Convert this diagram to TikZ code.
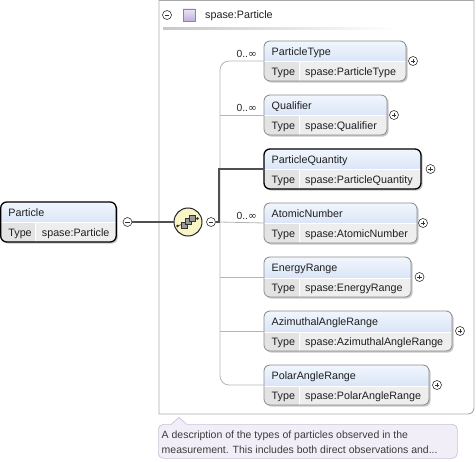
\documentclass[tikz,border=0pt]{standalone}
\usepackage{fontspec}
\setmainfont{Liberation Sans}
\newfontfamily\symf{DejaVu Sans}
\usetikzlibrary{shadows,calc}
\definecolor{hdtop}{HTML}{F2F6FD}
\definecolor{hdbot}{HTML}{C2D6F2}
\definecolor{tcell}{HTML}{E3E3E3}
\definecolor{vcell}{HTML}{EEEEEE}
\definecolor{bord}{HTML}{8C8C8C}
\definecolor{seqfill}{HTML}{FAF5C6}
\definecolor{contline}{HTML}{A9A9A9}
\definecolor{branchc}{HTML}{B4B4B4}
\definecolor{thickln}{HTML}{505050}
\definecolor{tipfill}{HTML}{F1EEF8}
\definecolor{tipline}{HTML}{C9C2D9}
\definecolor{tiptext}{HTML}{3C3C3C}
\definecolor{purtop}{HTML}{ECE6F6}
\definecolor{purbot}{HTML}{BFB0DE}
\definecolor{purline}{HTML}{8E80B4}
\tikzset{
  x=1pt, y=-1pt,
  elem/.style={rectangle, rounded corners=6pt, minimum height=40pt, anchor=north west,
    inner sep=0pt, outer sep=0pt, draw=bord, line width=0.8pt,
    drop shadow={shadow xshift=1.6pt, shadow yshift=-1.6pt, fill=black, opacity=0.22},
    path picture={
      \fill[sharp corners, top color=hdtop, bottom color=hdbot]
        (path picture bounding box.north west) rectangle ([yshift=-21pt]path picture bounding box.north east);
      \fill[sharp corners, tcell]
        ([yshift=-21pt]path picture bounding box.north west) rectangle ([xshift=35pt]path picture bounding box.south west);
      \fill[sharp corners, vcell]
        ([xshift=35pt,yshift=-21pt]path picture bounding box.north west) rectangle (path picture bounding box.south east);
      \draw[sharp corners, white, line width=1pt]
        ([yshift=-21pt]path picture bounding box.north west) -- ([yshift=-21pt]path picture bounding box.north east);
      \draw[sharp corners, white, line width=1pt]
        ([xshift=35pt,yshift=-21pt]path picture bounding box.north west) -- ([xshift=35pt]path picture bounding box.south west);
    }},
  req/.style={draw=black, line width=1.3pt},
  lbl/.style={anchor=base west, inner sep=0pt, font=\fontsize{10.75pt}{12pt}\selectfont, text=black!88},
  mult/.style={anchor=base east, inner sep=0pt, font=\fontsize{10.3pt}{12pt}\selectfont, text=black!85},
  pm/.style={circle, draw=black!80, fill=white, minimum size=9pt, inner sep=0pt, line width=0.6pt},
  plusc/.style={pm, path picture={
      \draw[line width=0.6pt] ([xshift=-2.3pt]path picture bounding box.center) -- ([xshift=2.3pt]path picture bounding box.center);
      \draw[line width=0.6pt] ([yshift=-2.3pt]path picture bounding box.center) -- ([yshift=2.3pt]path picture bounding box.center);}},
  minusc/.style={pm, path picture={
      \draw[line width=0.6pt] ([xshift=-2.3pt]path picture bounding box.center) -- ([xshift=2.3pt]path picture bounding box.center);}},
  branchline/.style={draw=branchc, line width=0.8pt},
  thickline/.style={draw=thickln, line width=1.8pt},
  tiptxt/.style={anchor=base west, inner sep=0pt, font=\fontsize{10.5pt}{12pt}\selectfont, text=tiptext},
}
\newcommand\elbox[7]{%
  \node[elem,#7,minimum width=#4pt] (#1) at (#2,#3) {};
  \node[lbl] (#1-n) at ([xshift=7.5pt,yshift=-14.5pt]#1.north west) {#5};
  \node[lbl] (#1-k) at ([xshift=7.5pt,yshift=-34.5pt]#1.north west) {Type};
  \node[lbl] (#1-v) at ([xshift=41pt,yshift=-34.5pt]#1.north west) {#6};
}
\newcommand\inft{{\symf\fontsize{10.5pt}{12pt}\selectfont ∞}}
\begin{document}
\begin{tikzpicture}
\useasboundingbox (0,0) rectangle (476,462);

% container
\draw[draw=contline, line width=0.9pt] (159,0.5) -- (474,0.5) {[rounded corners=6pt] -- (474,414) -- (240,414)} -- (159,414) -- cycle;
\node[minusc] (cmin) at (167,15) {};
\node[rectangle, minimum size=12pt, inner sep=0pt, top color=purtop, bottom color=purbot, draw=purline, line width=0.6pt] (csq) at (189,15) {};
\node[lbl] (ctitle) at (205,19) {spase:Particle};
\shade[left color=black!22, right color=white] (163,28) rectangle (397,30);

% root element
\elbox{particle}{0.7}{202}{115.5}{Particle}{spase:Particle}{req}
\node[minusc] (pmin) at (127.5,222) {};

% sequence compositor
\node[circle, minimum size=28pt, inner sep=0pt, draw=black!85, line width=1pt, fill=seqfill] (seq) at (188,222) {};
\begin{scope}[line width=0.6pt]
  \draw[black!80] (177.5,226) -- (197.5,218.5);
  \fill[black!85] (177.5,226) circle (1.3pt) (197.5,218.5) circle (1.3pt);
  \filldraw[fill=black!40, draw=black!80] (181,222) rectangle (187,228);
  \filldraw[fill=black!40, draw=black!80] (185,218.5) rectangle (191,224.5);
  \filldraw[fill=black!40, draw=black!80] (189,215) rectangle (195,221);
\end{scope}
\node[minusc] (sminus) at (211,222) {};
\coordinate (spine) at (220,222);

% children
\elbox{ptype}{264}{41}{142}{ParticleType}{spase:ParticleType}{}
\elbox{qual}{264}{95}{123}{Qualifier}{spase:Qualifier}{}
\elbox{pquant}{264}{149}{157}{ParticleQuantity}{spase:ParticleQuantity}{req}
\elbox{atomic}{264}{203}{153}{AtomicNumber}{spase:AtomicNumber}{}
\elbox{energy}{264}{257}{147}{EnergyRange}{spase:EnergyRange}{}
\elbox{azim}{264}{311}{188}{AzimuthalAngleRange}{spase:AzimuthalAngleRange}{}
\elbox{polar}{264}{365}{165}{PolarAngleRange}{spase:PolarAngleRange}{}

\node[plusc] (ptype-p) at (413,61) {};
\node[plusc] (qual-p) at (394,115) {};
\node[plusc] (pquant-p) at (430.5,169) {};
\node[plusc] (atomic-p) at (423,223) {};
\node[plusc] (energy-p) at (419.5,277) {};
\node[plusc] (azim-p) at (460,331) {};
\node[plusc] (polar-p) at (437,385) {};

% connectors
\draw[thickline] (pmin.east) -- (seq.west);
\draw[branchline, rounded corners=9pt] (ptype.west) -| (spine) |- (polar.west);
\draw[branchline] (qual.west) -- (qual.west -| spine);
\draw[branchline] (atomic.west) -- (spine);
\draw[branchline] (energy.west) -- (energy.west -| spine);
\draw[branchline] (azim.west) -- (azim.west -| spine);
\draw[thickline] (sminus.east) -- ([xshift=-1pt]spine) |- (pquant.west);

% multiplicities
\node[mult] (ptype-m) at ([xshift=-7pt,yshift=3.5pt]ptype.west) {0..\inft};
\node[mult] (qual-m) at ([xshift=-7pt,yshift=3.5pt]qual.west) {0..\inft};
\node[mult] (atomic-m) at ([xshift=-7pt,yshift=3.5pt]atomic.west) {0..\inft};

% annotation
\node[rectangle, rounded corners=5pt, anchor=north west, minimum width=299pt, minimum height=34pt,
      fill=tipfill, draw=tipline, line width=0.7pt, inner sep=0pt] (tip) at (158,424) {};
\fill[tipfill] (171.5,424.9) -- (179,417.5) -- (186.5,424.9) -- cycle;
\draw[tipline, line width=0.7pt] (171.5,424) -- (179,417.5) -- (186.5,424);
\node[tiptxt] (tip1) at (161.5,438.5) {A description of the types of particles observed in the};
\node[tiptxt] (tip2) at (161.5,453.5) {measurement. This includes both direct observations and...};
\end{tikzpicture}
\end{document}
